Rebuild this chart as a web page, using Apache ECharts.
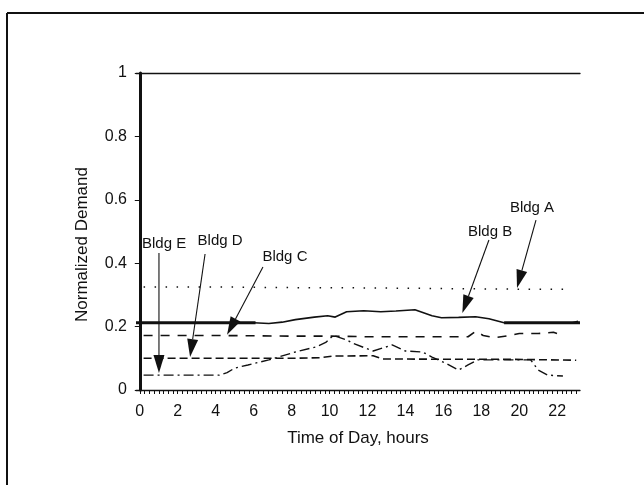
<!DOCTYPE html>
<html>
<head>
<meta charset="utf-8">
<script src="https://cdn.jsdelivr.net/npm/echarts@6/dist/echarts.min.js"></script>
<style>
html,body{margin:0;padding:0;background:#fff;}
#chart{width:644px;height:485px;}
</style>
</head>
<body>
<div id="chart"></div>
<script>
// ---- data (hours, normalized demand) ----
var xTickLabels = [0, 2, 4, 6, 8, 10, 12, 14, 16, 18, 20, 22];
var yTicks = [0, 0.2, 0.4, 0.6, 0.8, 1];

var bldgA = [[0.2,0.325],[4,0.325],[8,0.323],[12,0.322],[16,0.32],[20,0.318],[22.4,0.318]];
var bldgB = [[6.0,0.212],[6.8,0.210],[7.5,0.214],[8.2,0.222],[9.2,0.230],[9.9,0.234],[10.3,0.230],[10.9,0.247],[11.8,0.250],[12.7,0.247],[13.5,0.249],[14.5,0.253],[15.4,0.234],[15.9,0.228],[16.8,0.229],[17.7,0.231],[18.4,0.225],[19.2,0.212],[22.8,0.212],[23.1,0.217]];
var bldgBBase = [[-0.2,0.212],[6.1,0.212],[6.2,'-'],[19.2,0.212],[23.2,0.212]];
var bldgC = [[0.2,0.172],[2,0.172],[4,0.172],[6,0.171],[8,0.170],[10,0.170],[12,0.168],[14,0.168],[16,0.168],[17.3,0.168],[17.7,0.185],[18.1,0.172],[18.7,0.165],[19.5,0.172],[20,0.178],[21,0.178],[21.8,0.182],[22.3,0.172]];
var bldgD = [[0.2,0.100],[4,0.100],[8,0.100],[9.5,0.102],[10.2,0.107],[12.3,0.108],[12.8,0.098],[16,0.097],[19,0.097],[20.5,0.096],[23,0.094]];
var bldgE = [[0.2,0.047],[2,0.047],[4.2,0.047],[4.6,0.055],[5,0.069],[5.7,0.079],[6.8,0.095],[8.2,0.120],[9.3,0.136],[9.8,0.150],[10.2,0.172],[10.9,0.158],[11.2,0.148],[12.3,0.123],[13.3,0.142],[14,0.123],[14.9,0.120],[15.4,0.104],[16.1,0.085],[16.8,0.063],[17.3,0.079],[17.8,0.095],[19.2,0.095],[20.6,0.095],[21,0.063],[21.5,0.047],[22.3,0.044]];

var annotations = [
  {text:'Bldg A', label:[20.67,0.574], from:[20.88,0.536], to:[19.88,0.322]},
  {text:'Bldg B', label:[18.46,0.500], from:[18.40,0.473], to:[17.00,0.243]},
  {text:'Bldg C', label:[7.65,0.420], from:[6.49,0.388], to:[4.60,0.174]},
  {text:'Bldg D', label:[4.23,0.470], from:[3.44,0.429], to:[2.65,0.104]},
  {text:'Bldg E', label:[1.28,0.460], from:[1.01,0.432], to:[1.01,0.054]}
];

var quarterTicks = [];
for (var i = 0; i <= 92; i++) quarterTicks.push(i * 0.25);

var FONT = '"Liberation Sans", Arial, sans-serif';
var INK = '#111';

var chart = echarts.init(document.getElementById('chart'), null, {renderer:'canvas'});

function lineSeries(name, data, width, type) {
  return {
    name: name, type: 'line', data: data, showSymbol: false, symbol: 'none',
    smooth: false, connectNulls: false, animation: false, silent: true,
    lineStyle: {color: INK, width: width, type: type}
  };
}

var option = {
  backgroundColor: '#fff',
  animation: false,
  grid: {left: 136, top: 73, right: 64, bottom: 95},
  xAxis: [{
    type: 'value', min: -0.2, max: 23.2,
    name: 'Time of Day, hours', nameLocation: 'middle', nameGap: 40,
    nameTextStyle: {fontFamily: FONT, fontSize: 17, color: INK},
    axisLine: {show: true, lineStyle: {color: INK, width: 1.3}},
    axisTick: {show: true, length: 4, customValues: quarterTicks, lineStyle: {color: INK, width: 1}},
    axisLabel: {customValues: xTickLabels, fontFamily: FONT, fontSize: 16, color: INK, margin: 14},
    splitLine: {show: false}
  }, {
    type: 'value', min: -0.2, max: 23.2, position: 'top',
    axisLine: {show: true, lineStyle: {color: INK, width: 1.3}},
    axisTick: {show: false}, axisLabel: {show: false}, splitLine: {show: false}
  }],
  yAxis: {
    type: 'value', min: 0, max: 1, interval: 0.2,
    name: 'Normalized Demand', nameLocation: 'middle', nameGap: 45,
    nameTextStyle: {fontFamily: FONT, fontSize: 17, color: INK, padding: [0, 26, 0, 0]},
    axisLine: {show: true, lineStyle: {color: INK, width: 3}},
    axisTick: {show: true, length: 5, lineStyle: {color: INK, width: 1}},
    axisLabel: {fontFamily: FONT, fontSize: 16, color: INK, margin: 9},
    splitLine: {show: false}
  },
  series: [
    lineSeries('Bldg A', bldgA, 1.5, [1.5, 9.5]),
    lineSeries('Bldg B', bldgB, 1.6, 'solid'),
    lineSeries('Bldg B base', bldgBBase, 3, 'solid'),
    lineSeries('Bldg C', bldgC, 1.6, [9, 8]),
    lineSeries('Bldg D', bldgD, 1.6, [8, 4]),
    lineSeries('Bldg E', bldgE, 1.4, [10, 4, 2, 4])
  ]
};
chart.setOption(option);

// annotations: arrows and labels, placed through the chart's own coordinate system
var g = [];
// outer figure frame
g.push({type:'line', shape:{x1:7, y1:13, x2:644, y2:13}, style:{stroke:INK, lineWidth:2}, silent:true});
g.push({type:'line', shape:{x1:7, y1:13, x2:7, y2:485}, style:{stroke:INK, lineWidth:2}, silent:true});

annotations.forEach(function (a) {
  var p0 = chart.convertToPixel({gridIndex:0}, a.from);
  var p1 = chart.convertToPixel({gridIndex:0}, a.to);
  var pl = chart.convertToPixel({gridIndex:0}, a.label);
  var dx = p1[0] - p0[0], dy = p1[1] - p0[1];
  var len = Math.sqrt(dx*dx + dy*dy);
  var ux = dx/len, uy = dy/len;
  var headL = 18, headW = 5.5;
  var bx = p1[0] - ux*headL, by = p1[1] - uy*headL;
  g.push({type:'line', shape:{x1:p0[0], y1:p0[1], x2:bx, y2:by}, style:{stroke:INK, lineWidth:1.1}, silent:true});
  g.push({type:'polygon', shape:{points:[[p1[0],p1[1]],[bx - uy*headW, by + ux*headW],[bx + uy*headW, by - ux*headW]]}, style:{fill:INK}, silent:true});
  g.push({type:'text', x: pl[0], y: pl[1], style:{text:a.text, fill:INK, font:'15px ' + FONT, align:'center', verticalAlign:'middle'}, silent:true});
});
chart.setOption({graphic: g});
</script>
</body>
</html>
